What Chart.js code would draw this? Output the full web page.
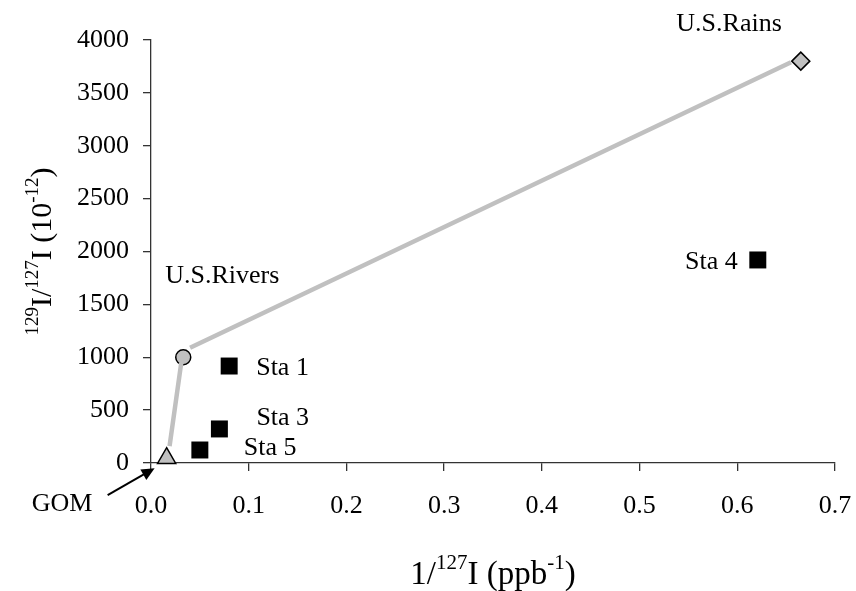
<!DOCTYPE html>
<html>
<head>
<meta charset="utf-8">
<script src="https://cdn.jsdelivr.net/npm/chart.js@4/dist/chart.umd.min.js"></script>
<style>
  html, body { margin: 0; padding: 0; background: #fff; }
  #wrap { width: 856px; height: 591px; position: relative; }
</style>
</head>
<body>
<div id="wrap"><canvas id="iodine"></canvas></div>
<script>
// end-members: Gulf of Mexico, US rivers, US rain
const endNames = ["GOM", "U.S.Rivers", "U.S.Rains"];
const endX = [0.016, 0.033, 0.665];
const endY = [45, 1000, 3800];

// stations
const staNames = ["Sta 1", "Sta 3", "Sta 5", "Sta 4"];
const staX = [0.080, 0.070, 0.050, 0.621];
const staY = [917, 322, 123, 1920];

// mixing line (two pieces, null breaks it)
const mixX = [0.019, 0.031, null, 0.040, 0.655];
const mixY = [160, 950, null, 1090, 3790];

const xTicks = [0, 0.1, 0.2, 0.3, 0.4, 0.5, 0.6, 0.7];
const yTicks = [0, 500, 1000, 1500, 2000, 2500, 3000, 3500, 4000];

const SERIF = "'Liberation Serif', 'Times New Roman', serif";
const AXIS = "#333";
const GREY = "#c0c0c0";

// where each text label sits, in pixels from its point
const endLabelPos = [
  { dx: -135, dy: 53, align: "left" },
  { dx: -18, dy: -74, align: "left" },
  { dx: -19, dy: -30, align: "right" }
];
const staLabelPos = [
  { dx: 27, dy: 9, align: "left" },
  { dx: 37, dy: -4, align: "left" },
  { dx: 44, dy: 5, align: "left" },
  { dx: -20, dy: 9, align: "right" }
];

// draw a run of [text, isSuperscript] parts starting at x on baseline y
function richWidth(ctx, parts, size, supSize) {
  let w = 0;
  parts.forEach(([t, sup]) => {
    ctx.font = (sup ? supSize : size) + "px " + SERIF;
    w += ctx.measureText(t).width;
  });
  return w;
}
function drawRich(ctx, parts, x, y, size, supSize, rise) {
  ctx.textAlign = "left";
  ctx.textBaseline = "alphabetic";
  parts.forEach(([t, sup]) => {
    ctx.font = (sup ? supSize : size) + "px " + SERIF;
    ctx.fillText(t, x, sup ? y - rise : y);
    x += ctx.measureText(t).width;
  });
}

const notes = {
  id: "notes",
  afterDatasetsDraw(chart) {
    const ctx = chart.ctx;
    const xs = chart.scales.x, ys = chart.scales.y;
    const area = chart.chartArea;
    ctx.save();
    ctx.fillStyle = "#000";
    ctx.font = "26px " + SERIF;
    ctx.textBaseline = "alphabetic";

    endNames.forEach((name, i) => {
      const px = xs.getPixelForValue(endX[i]), py = ys.getPixelForValue(endY[i]);
      const p = endLabelPos[i];
      ctx.textAlign = p.align;
      ctx.fillText(name, px + p.dx, py + p.dy);
    });
    staNames.forEach((name, i) => {
      const px = xs.getPixelForValue(staX[i]), py = ys.getPixelForValue(staY[i]);
      const p = staLabelPos[i];
      ctx.textAlign = p.align;
      ctx.fillText(name, px + p.dx, py + p.dy);
    });

    // arrow from the GOM label to its marker
    const gx = xs.getPixelForValue(endX[0]), gy = ys.getPixelForValue(endY[0]);
    const x0 = gx - 59, y0 = gy + 37, x1 = gx - 12, y1 = gy + 10;
    const ang = Math.atan2(y1 - y0, x1 - x0);
    ctx.strokeStyle = "#000";
    ctx.lineWidth = 2;
    ctx.beginPath();
    ctx.moveTo(x0, y0);
    ctx.lineTo(x1 - 8 * Math.cos(ang), y1 - 8 * Math.sin(ang));
    ctx.stroke();
    ctx.beginPath();
    ctx.moveTo(x1, y1);
    ctx.lineTo(x1 - 13 * Math.cos(ang) + 6 * Math.sin(ang), y1 - 13 * Math.sin(ang) - 6 * Math.cos(ang));
    ctx.lineTo(x1 - 13 * Math.cos(ang) - 6 * Math.sin(ang), y1 - 13 * Math.sin(ang) + 6 * Math.cos(ang));
    ctx.closePath();
    ctx.fill();

    // x title: 1/127I (ppb-1)
    const xt = [["1/", false], ["127", true], ["I (ppb", false], ["-1", true], [")", false]];
    const xw = richWidth(ctx, xt, 33, 21);
    drawRich(ctx, xt, (area.left + area.right) / 2 - xw / 2, 584, 33, 21, 15);

    // y title: 129I/127I (10-12), rotated
    const yt = [["129", true], ["I/", false], ["127", true], ["I (10", false], ["-12", true], [")", false]];
    const yw = richWidth(ctx, yt, 30, 19);
    ctx.translate(51, (area.top + area.bottom) / 2);
    ctx.rotate(-Math.PI / 2);
    drawRich(ctx, yt, -yw / 2, 0, 30, 19, 13);
    ctx.restore();
  }
};

new Chart(document.getElementById("iodine"), {
  type: "scatter",
  data: {
    datasets: [
      {
        label: "mixing",
        data: mixX.map((x, i) => ({ x: x, y: mixY[i] })),
        showLine: true,
        spanGaps: false,
        borderColor: GREY,
        borderWidth: 4.5,
        pointRadius: 0,
        clip: false
      },
      {
        label: "end-members",
        data: endX.map((x, i) => ({ x: x, y: endY[i] })),
        pointStyle: ["triangle", "circle", "rectRot"],
        pointRadius: [10.5, 7.5, 9],
        backgroundColor: GREY,
        borderColor: "#000",
        borderWidth: 1.5,
        clip: false
      },
      {
        label: "stations",
        data: staX.map((x, i) => ({ x: x, y: staY[i] })),
        pointStyle: "rect",
        pointRadius: 12,
        backgroundColor: "#000",
        borderColor: "#000",
        borderWidth: 0,
        clip: false
      }
    ]
  },
  options: {
    responsive: true,
    maintainAspectRatio: false,
    animation: false,
    events: [],
    layout: { padding: { top: 40, right: 21, left: 0, bottom: 0 } },
    plugins: { legend: { display: false }, tooltip: { enabled: false } },
    scales: {
      x: {
        type: "linear",
        min: xTicks[0],
        max: xTicks[xTicks.length - 1],
        afterBuildTicks: s => { s.ticks = xTicks.map(v => ({ value: v })); },
        afterFit: s => { s.height = 128; s.paddingLeft = 0; s.paddingRight = 0; },
        border: { display: true, color: AXIS, width: 1.3 },
        grid: { drawOnChartArea: false, color: AXIS, tickLength: 8, lineWidth: 1.3 },
        ticks: {
          padding: 20,
          color: "#000",
          font: { family: SERIF, size: 26 },
          callback: v => Number(v).toFixed(1)
        }
      },
      y: {
        type: "linear",
        min: yTicks[0],
        max: yTicks[yTicks.length - 1],
        afterBuildTicks: s => { s.ticks = yTicks.map(v => ({ value: v })); },
        afterFit: s => { s.width = 151; s.paddingTop = 0; s.paddingBottom = 0; },
        border: { display: true, color: AXIS, width: 1.3 },
        grid: { drawOnChartArea: false, color: AXIS, tickLength: 8, lineWidth: 1.3 },
        ticks: {
          padding: 14,
          color: "#000",
          font: { family: SERIF, size: 26 },
          callback: v => String(v)
        }
      }
    }
  },
  plugins: [notes]
});
</script>
</body>
</html>
